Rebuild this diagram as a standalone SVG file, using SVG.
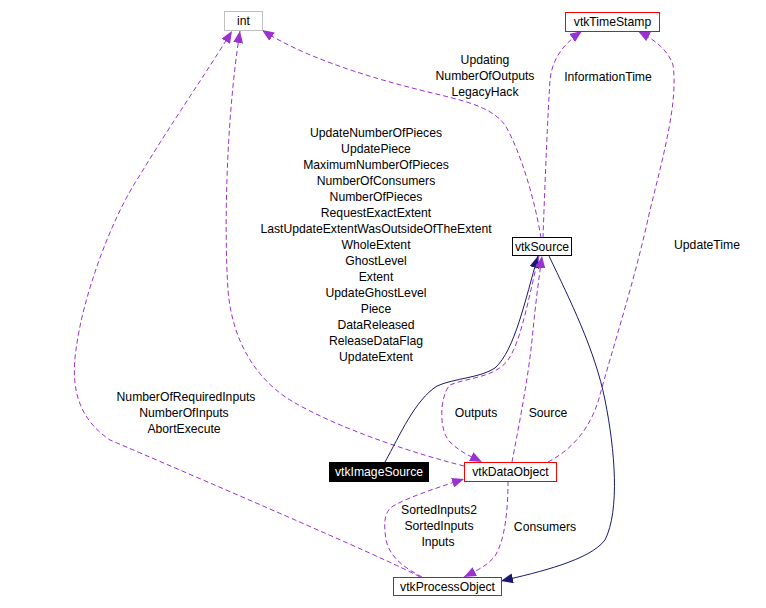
<svg xmlns="http://www.w3.org/2000/svg" width="766" height="608" viewBox="0 0 766 608">
<style>
text{font-family:"Liberation Sans",Arial,sans-serif;font-size:12.2px;fill:#000;text-anchor:middle}
.box{fill:#fff;stroke:#ff0000;stroke-width:1}
.dash{fill:none;stroke:#9a32cd;stroke-width:1;stroke-dasharray:5,3}
.solid{fill:none;stroke:#191970;stroke-width:1}
</style>
<defs>
<marker id="ap" markerUnits="userSpaceOnUse" markerWidth="12" markerHeight="10" viewBox="0 0 12 10" refX="12" refY="5" orient="auto"><path d="M0,0 L12,5 L0,10 z" fill="#9a32cd"/></marker>
<marker id="an" markerUnits="userSpaceOnUse" markerWidth="12" markerHeight="10" viewBox="0 0 12 10" refX="12" refY="5" orient="auto"><path d="M0,0 L12,5 L0,10 z" fill="#191970"/></marker>
</defs>
<rect width="766" height="608" fill="#fff"/>
<g id="edges">
<path class="dash" marker-end="url(#ap)" d="M420,577 C390,560 180,470 110,440 C80,420 70,390 76,350 C82,300 110,220 140,175 C170,125 205,75 232,31"/>
<path class="dash" marker-end="url(#ap)" d="M464,466 C420,455 340,430 290,400 C255,378 232,340 228,290 C224,230 226,120 240,31"/>
<path class="dash" marker-end="url(#ap)" d="M541,238 C535,200 520,150 505,125 C490,105 460,100 420,90 C360,75 300,55 262,30"/>
<path class="dash" marker-end="url(#ap)" d="M543,238 C545,180 548,110 550,80 C552,60 562,45 582,31"/>
<path class="dash" marker-end="url(#ap)" d="M548,462 C575,448 592,425 600,395 C612,350 635,280 650,210 C665,150 678,100 673,65 C668,50 655,40 638,31"/>
<path class="solid" marker-end="url(#an)" d="M385,462 C400,435 415,400 437,386 C455,378 480,378 495,368 C515,350 525,300 538,256"/>
<path class="solid" marker-end="url(#an)" d="M549,256 C570,300 595,350 605,400 C615,450 620,510 605,540 C590,560 540,572 501,581"/>
<path class="dash" marker-end="url(#ap)" d="M512,462 C518,430 528,380 532,340 C536,300 538,285 542,256"/>
<path class="dash" marker-end="url(#ap)" d="M539,256 C530,290 522,340 508,360 C495,378 465,378 450,385 C440,395 438,430 450,442 C460,452 470,456 482,462"/>
<path class="dash" marker-end="url(#ap)" d="M508,481 C508,510 505,540 495,556 C488,565 478,570 464,577"/>
<path class="dash" marker-end="url(#ap)" d="M422,577 C405,568 390,558 386,540 C383,520 385,510 395,505 C410,497 430,490 464,479"/>
<text x="186" y="401">NumberOfRequiredInputs</text>
<text x="184" y="417">NumberOfInputs</text>
<text x="184" y="433">AbortExecute</text>
<text x="376" y="137">UpdateNumberOfPieces</text>
<text x="376" y="153">UpdatePiece</text>
<text x="376" y="169">MaximumNumberOfPieces</text>
<text x="376" y="185">NumberOfConsumers</text>
<text x="376" y="201">NumberOfPieces</text>
<text x="376" y="217">RequestExactExtent</text>
<text x="376" y="233">LastUpdateExtentWasOutsideOfTheExtent</text>
<text x="376" y="249">WholeExtent</text>
<text x="376" y="265">GhostLevel</text>
<text x="376" y="281">Extent</text>
<text x="376" y="297">UpdateGhostLevel</text>
<text x="376" y="313">Piece</text>
<text x="376" y="329">DataReleased</text>
<text x="376" y="345">ReleaseDataFlag</text>
<text x="376" y="361">UpdateExtent</text>
<text x="485" y="64">Updating</text>
<text x="485" y="80">NumberOfOutputs</text>
<text x="485" y="96">LegacyHack</text>
<text x="608" y="81">InformationTime</text>
<text x="707" y="249">UpdateTime</text>
<text x="476" y="417">Outputs</text>
<text x="548" y="417">Source</text>
<text x="545" y="531">Consumers</text>
<text x="439" y="514">SortedInputs2</text>
<text x="439" y="530">SortedInputs</text>
<text x="438" y="546">Inputs</text>
</g>
<g id="int"><rect x="224.5" y="11.5" width="38" height="19" fill="#fff" stroke="#bfbfbf"/><text x="243.5" y="25">int</text></g>
<g id="vtkTimeStamp"><rect class="box" x="565.5" y="12.5" width="94" height="19"/><text x="612.5" y="26">vtkTimeStamp</text></g>
<g id="vtkSource"><rect x="512.5" y="237.5" width="59" height="18" fill="#fff" stroke="#000"/><text x="542" y="251">vtkSource</text></g>
<g id="vtkImageSource"><rect x="329" y="462" width="100" height="20" fill="#000"/><text x="379" y="476" style="fill:#fff">vtkImageSource</text></g>
<g id="vtkDataObject"><rect class="box" x="464.5" y="462.5" width="92" height="19"/><text x="510.5" y="476">vtkDataObject</text></g>
<g id="vtkProcessObject"><rect x="393.5" y="577.5" width="108" height="18" fill="#fff" stroke="#ff0000" stroke-width="1"/><text x="447.5" y="591">vtkProcessObject</text></g>
</svg>
